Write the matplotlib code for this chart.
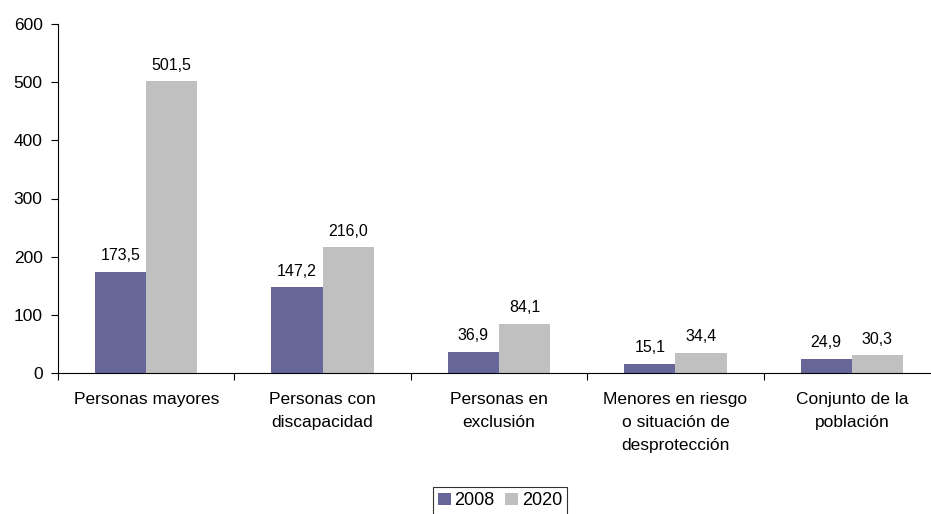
import matplotlib.pyplot as plt
import numpy as np

plt.rcParams['font.family'] = ['Liberation Sans', 'DejaVu Sans']

categories = ["Personas mayores", "Personas con\ndiscapacidad", "Personas en\nexclusión",
              "Menores en riesgo\no situación de\ndesprotección", "Conjunto de la\npoblación"]
values_2008 = [173.5, 147.2, 36.9, 15.1, 24.9]
values_2020 = [501.5, 216.0, 84.1, 34.4, 30.3]

fig = plt.figure(figsize=(9.31, 5.14), dpi=100)
ax = fig.add_axes([58 / 931, 1 - 373 / 514, (940 - 58) / 931, (373 - 24) / 514])

x = np.arange(len(categories))
w = 0.29
b1 = ax.bar(x - w / 2, values_2008, w, color="#666699", label="2008")
b2 = ax.bar(x + w / 2, values_2020, w, color="#C0C0C0", label="2020")

for bars in (b1, b2):
    for bar in bars:
        h = bar.get_height()
        ax.text(bar.get_x() + bar.get_width() / 2, h + 15, f"{h:.1f}".replace(".", ","),
                ha="center", va="bottom", fontsize=11.5)

ax.set_xlim(-0.5, len(categories) - 0.5)
ax.set_ylim(0, 600)
ax.set_yticks(range(0, 601, 100))
ax.set_xticks(np.arange(len(categories) + 1) - 0.5)
ax.set_xticklabels([])
ax.set_xticks(x, minor=True)
ax.set_xticklabels(categories, minor=True, fontsize=12.5, linespacing=1.65)
ax.tick_params(axis="x", which="minor", length=0, pad=14)
ax.tick_params(axis="x", which="major", length=5, direction="out")
ax.tick_params(axis="y", length=5, labelsize=12.5, pad=6)

for side in ("top", "right"):
    ax.spines[side].set_visible(False)
ax.spines["left"].set_linewidth(0.8)
ax.spines["bottom"].set_linewidth(0.8)

leg = fig.legend(handles=[b1, b2], loc="upper center", bbox_to_anchor=(500 / 931, 1 - 478 / 514),
                 ncol=2, fontsize=13, frameon=True, fancybox=False, edgecolor="black",
                 handlelength=0.7, handleheight=0.7, handletextpad=0.2, columnspacing=0.6,
                 borderpad=0.3)
leg.get_frame().set_linewidth(0.8)

plt.savefig("out.png", dpi=100)
